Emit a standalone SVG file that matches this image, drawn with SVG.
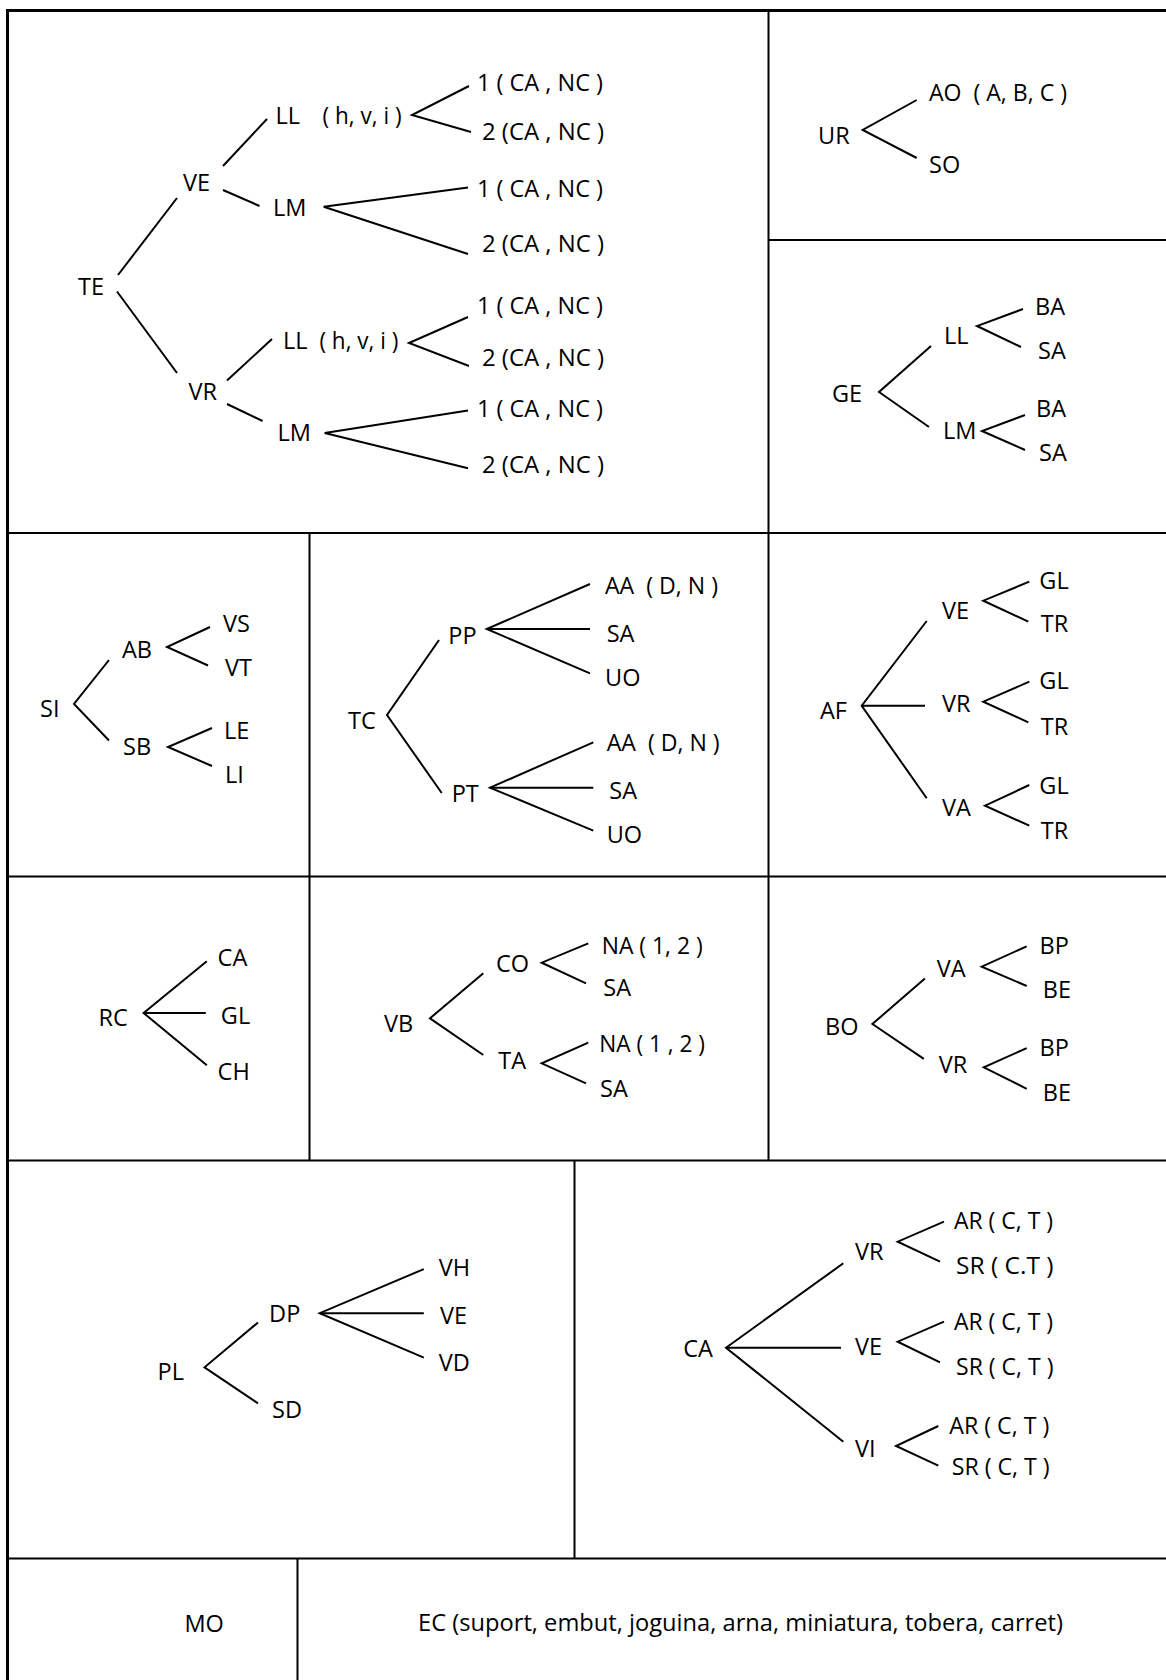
<svg xmlns="http://www.w3.org/2000/svg" width="1166" height="1680" viewBox="0 0 1166 1680">
<style>
text{font-family:"Open Sans","Noto Sans","DejaVu Sans",sans-serif;font-size:23.5px;fill:#000}
.c polyline,.c line{stroke:#000;stroke-width:2;fill:none}
.f{stroke:#000;fill:none;stroke-width:2}
.fo{stroke:#000;fill:none;stroke-width:3}
</style>
<rect width="1166" height="1680" fill="#fff"/>
<g id="frame">
<path class="fo" d="M7.5,1680 V10.5 H1166"/>
<path class="f" d="M768.5,10.5 V1160.5 M768.5,240 H1166 M7.5,533 H1166 M309.5,533 V1160.5 M7.5,876.5 H1166 M7.5,1160.5 H1166 M574.5,1160.5 V1558.5 M7.5,1558.5 H1166 M297.5,1558.5 V1680"/>
</g>
<g id="connectors" class="c">
<!-- TE tree -->
<line x1="118" y1="275" x2="177" y2="198"/>
<line x1="117" y1="291.5" x2="177" y2="373"/>
<line x1="223" y1="166" x2="267" y2="119"/>
<line x1="223" y1="190" x2="259.5" y2="206"/>
<polyline points="469,86 412,115 471,132"/>
<polyline points="468,187.5 323.7,206.8 468,254"/>
<line x1="227" y1="380.5" x2="272" y2="339"/>
<line x1="227" y1="404" x2="262.6" y2="421"/>
<polyline points="468,317 409,343 469,366"/>
<polyline points="468,410.5 324.7,433 468,468.3"/>
<!-- UR -->
<polyline points="916.7,100 862.7,130 916.7,158"/>
<!-- GE -->
<polyline points="931,346 879,392 929,427"/>
<polyline points="1023,309 977,326 1021,347"/>
<polyline points="1025,415 982,431 1025,450"/>
<!-- SI -->
<polyline points="109,660 74,704 109,740.5"/>
<polyline points="210,627 167,647 208,665.5"/>
<polyline points="212,728 168,747 212,766"/>
<!-- TC -->
<polyline points="439,640 387,715 441.7,793"/>
<polyline points="590,584 486.7,629 590,673.3"/>
<line x1="486.7" y1="629" x2="590" y2="629"/>
<polyline points="593.3,742.3 490,787.7 593.3,830.7"/>
<line x1="490" y1="787.7" x2="593.3" y2="787.7"/>
<!-- AF -->
<polyline points="926.7,621 861.7,705.7 926.7,798.3"/>
<line x1="861.7" y1="705.7" x2="925" y2="705.7"/>
<polyline points="1029.3,581.7 983.3,600.7 1028.3,621.7"/>
<polyline points="1029.3,681.7 983.3,701.7 1028.3,722.3"/>
<polyline points="1029.3,785 985,805.7 1029.3,825.7"/>
<!-- RC -->
<polyline points="206.8,961.3 143.6,1013 206.8,1065.3"/>
<line x1="143.6" y1="1013" x2="205.8" y2="1013"/>
<!-- VB -->
<polyline points="483.3,973.3 430,1018.3 483.3,1055"/>
<polyline points="588.3,943.3 541.7,962.7 586,983.3"/>
<polyline points="588.3,1042.7 541.7,1063.3 586,1083.3"/>
<!-- BO -->
<polyline points="924.9,978.5 872.4,1024 923.8,1058.8"/>
<polyline points="1026.7,946.3 981.7,966.7 1026.7,986"/>
<polyline points="1026.7,1048.1 983.8,1067.4 1026.7,1088.8"/>
<!-- PL -->
<polyline points="258,1322.5 204.5,1367.3 258,1403.4"/>
<polyline points="423.8,1269.1 319.7,1313.2 423.8,1357.6"/>
<line x1="319.7" y1="1313.2" x2="423.8" y2="1313.2"/>
<!-- CA -->
<polyline points="843.3,1263.3 726,1347.7 843.3,1441.7"/>
<line x1="726" y1="1347.7" x2="841" y2="1347.7"/>
<polyline points="944,1221.7 897.7,1241.7 940,1261.7"/>
<polyline points="944,1321.7 897.7,1341.7 940,1362.3"/>
<polyline points="938.3,1426 896,1446 938.3,1465.7"/>
</g>
<!-- TE panel -->
<g id="te-TE"><text x="78" y="294.5">TE</text></g>
<g id="te-VE"><text x="183" y="190.5">VE</text></g>
<g id="te-VE-LL"><text x="275.5" y="123.5">LL</text><text x="322.6" y="123.5" textLength="79" lengthAdjust="spacingAndGlyphs">( h, v, i )</text></g>
<g id="te-VE-LL-1"><text x="477" y="91" textLength="126" lengthAdjust="spacingAndGlyphs">1 ( CA , NC )</text></g>
<g id="te-VE-LL-2"><text x="482" y="139.5" textLength="122" lengthAdjust="spacingAndGlyphs">2 (CA , NC )</text></g>
<g id="te-VE-LM"><text x="273" y="215.5">LM</text></g>
<g id="te-VE-LM-1"><text x="477" y="197.2" textLength="126" lengthAdjust="spacingAndGlyphs">1 ( CA , NC )</text></g>
<g id="te-VE-LM-2"><text x="482" y="252" textLength="122" lengthAdjust="spacingAndGlyphs">2 (CA , NC )</text></g>
<g id="te-VR"><text x="188.6" y="399.5">VR</text></g>
<g id="te-VR-LL"><text x="283" y="348.5">LL</text><text x="319.4" y="348.5" textLength="79" lengthAdjust="spacingAndGlyphs">( h, v, i )</text></g>
<g id="te-VR-LL-1"><text x="477" y="314" textLength="126" lengthAdjust="spacingAndGlyphs">1 ( CA , NC )</text></g>
<g id="te-VR-LL-2"><text x="482" y="365.5" textLength="122" lengthAdjust="spacingAndGlyphs">2 (CA , NC )</text></g>
<g id="te-VR-LM"><text x="277.6" y="440.5">LM</text></g>
<g id="te-VR-LM-1"><text x="477" y="417" textLength="126" lengthAdjust="spacingAndGlyphs">1 ( CA , NC )</text></g>
<g id="te-VR-LM-2"><text x="482" y="472.5" textLength="122" lengthAdjust="spacingAndGlyphs">2 (CA , NC )</text></g>
<!-- UR panel -->
<g id="ur-UR"><text x="818" y="143.5">UR</text></g>
<g id="ur-AO"><text x="929" y="101" textLength="138" lengthAdjust="spacingAndGlyphs" xml:space="preserve">AO  ( A, B, C )</text></g>
<g id="ur-SO"><text x="929" y="173">SO</text></g>
<!-- GE panel -->
<g id="ge-GE"><text x="832" y="401.5">GE</text></g>
<g id="ge-LL"><text x="944" y="343.5">LL</text></g>
<g id="ge-LL-BA"><text x="1035" y="315">BA</text></g>
<g id="ge-LL-SA"><text x="1038" y="358.5">SA</text></g>
<g id="ge-LM"><text x="943" y="438.5">LM</text></g>
<g id="ge-LM-BA"><text x="1036" y="416.5">BA</text></g>
<g id="ge-LM-SA"><text x="1039" y="460.5">SA</text></g>
<!-- SI panel -->
<g id="si-SI"><text x="40" y="716.5">SI</text></g>
<g id="si-AB"><text x="122" y="658">AB</text></g>
<g id="si-VS"><text x="223" y="631.5">VS</text></g>
<g id="si-VT"><text x="225" y="675.5">VT</text></g>
<g id="si-SB"><text x="123" y="754.5">SB</text></g>
<g id="si-LE"><text x="224" y="738.5">LE</text></g>
<g id="si-LI"><text x="225" y="782.5">LI</text></g>
<!-- TC panel -->
<g id="tc-TC"><text x="348" y="728.5">TC</text></g>
<g id="tc-PP"><text x="448.3" y="643.5">PP</text></g>
<g id="tc-PP-AA"><text x="605" y="593.5" textLength="113" lengthAdjust="spacingAndGlyphs" xml:space="preserve">AA  ( D, N )</text></g>
<g id="tc-PP-SA"><text x="606.7" y="642">SA</text></g>
<g id="tc-PP-UO"><text x="605" y="685.5">UO</text></g>
<g id="tc-PT"><text x="451.7" y="802">PT</text></g>
<g id="tc-PT-AA"><text x="606.7" y="750.5" textLength="113" lengthAdjust="spacingAndGlyphs" xml:space="preserve">AA  ( D, N )</text></g>
<g id="tc-PT-SA"><text x="609.3" y="798.5">SA</text></g>
<g id="tc-PT-UO"><text x="606.7" y="842.5">UO</text></g>
<!-- AF panel -->
<g id="af-AF"><text x="820" y="718.5">AF</text></g>
<g id="af-VE"><text x="942" y="618.5">VE</text></g>
<g id="af-VE-GL"><text x="1039.3" y="588.5">GL</text></g>
<g id="af-VE-TR"><text x="1040.7" y="631.5">TR</text></g>
<g id="af-VR"><text x="942" y="712">VR</text></g>
<g id="af-VR-GL"><text x="1039.3" y="688.5">GL</text></g>
<g id="af-VR-TR"><text x="1040.7" y="734.5">TR</text></g>
<g id="af-VA"><text x="942" y="816">VA</text></g>
<g id="af-VA-GL"><text x="1039.3" y="793.5">GL</text></g>
<g id="af-VA-TR"><text x="1040.7" y="838.5">TR</text></g>
<!-- RC panel -->
<g id="rc-RC"><text x="98.6" y="1025.5">RC</text></g>
<g id="rc-CA"><text x="217.6" y="965.5">CA</text></g>
<g id="rc-GL"><text x="220.8" y="1023.5">GL</text></g>
<g id="rc-CH"><text x="217.6" y="1079.5">CH</text></g>
<!-- VB panel -->
<g id="vb-VB"><text x="384" y="1032">VB</text></g>
<g id="vb-CO"><text x="496" y="972">CO</text></g>
<g id="vb-CO-NA"><text x="601.7" y="953.5" textLength="101" lengthAdjust="spacingAndGlyphs">NA ( 1, 2 )</text></g>
<g id="vb-CO-SA"><text x="603.3" y="995.5">SA</text></g>
<g id="vb-TA"><text x="498.3" y="1068.5">TA</text></g>
<g id="vb-TA-NA"><text x="599.3" y="1052" textLength="105.7" lengthAdjust="spacingAndGlyphs">NA ( 1 , 2 )</text></g>
<g id="vb-TA-SA"><text x="600" y="1097">SA</text></g>
<!-- BO panel -->
<g id="bo-BO"><text x="825" y="1034.5">BO</text></g>
<g id="bo-VA"><text x="936.7" y="976.5">VA</text></g>
<g id="bo-VA-BP"><text x="1039.5" y="954">BP</text></g>
<g id="bo-VA-BE"><text x="1042.8" y="998">BE</text></g>
<g id="bo-VR"><text x="938.8" y="1073">VR</text></g>
<g id="bo-VR-BP"><text x="1039.5" y="1055.5">BP</text></g>
<g id="bo-VR-BE"><text x="1042.8" y="1100.5">BE</text></g>
<!-- PL panel -->
<g id="pl-PL"><text x="157.6" y="1379.5">PL</text></g>
<g id="pl-DP"><text x="269.1" y="1322">DP</text></g>
<g id="pl-VH"><text x="438.7" y="1276">VH</text></g>
<g id="pl-VE"><text x="440" y="1324.3">VE</text></g>
<g id="pl-VD"><text x="438.7" y="1370.8">VD</text></g>
<g id="pl-SD"><text x="272" y="1418.3">SD</text></g>
<!-- CA panel -->
<g id="ca-CA"><text x="683.3" y="1357">CA</text></g>
<g id="ca-VR"><text x="855" y="1260.4">VR</text></g>
<g id="ca-VR-AR"><text x="954" y="1229.4" textLength="99" lengthAdjust="spacingAndGlyphs">AR ( C, T )</text></g>
<g id="ca-VR-SR"><text x="956" y="1273.7" textLength="97.5" lengthAdjust="spacingAndGlyphs">SR ( C.T )</text></g>
<g id="ca-VE"><text x="855" y="1355.4">VE</text></g>
<g id="ca-VE-AR"><text x="954" y="1330.4" textLength="99" lengthAdjust="spacingAndGlyphs">AR ( C, T )</text></g>
<g id="ca-VE-SR"><text x="956" y="1375.4" textLength="97.5" lengthAdjust="spacingAndGlyphs">SR ( C, T )</text></g>
<g id="ca-VI"><text x="855" y="1457">VI</text></g>
<g id="ca-VI-AR"><text x="949.3" y="1433.7" textLength="100" lengthAdjust="spacingAndGlyphs">AR ( C, T )</text></g>
<g id="ca-VI-SR"><text x="951.7" y="1475.4" textLength="98" lengthAdjust="spacingAndGlyphs">SR ( C, T )</text></g>
<!-- bottom row -->
<g id="mo-MO"><text x="184.4" y="1631.5">MO</text></g>
<g id="ec-EC"><text x="418" y="1630.7" textLength="645" lengthAdjust="spacingAndGlyphs">EC (suport, embut, joguina, arna, miniatura, tobera, carret)</text></g>
</svg>
